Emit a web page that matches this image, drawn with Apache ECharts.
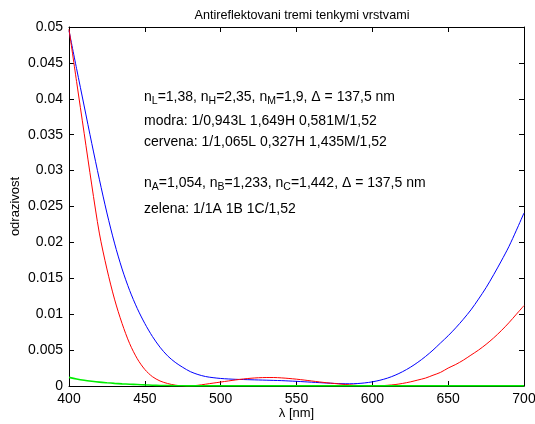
<!DOCTYPE html>
<html>
<head>
<meta charset="utf-8">
<script src="https://cdn.jsdelivr.net/npm/echarts@6/dist/echarts.min.js"></script>
<style>
  html, body { margin: 0; padding: 0; background: #fff; }
  #chart { width: 535px; height: 424px; }
</style>
</head>
<body>
<div id="chart"></div>
<script>
// Wavelength samples [nm]
var wavelengths = [400,405,410,415,420,425,430,435,440,445,450,455,460,465,470,475,480,485,490,495,
  500,505,510,515,520,525,530,535,540,545,550,555,560,565,570,575,580,585,590,595,
  600,605,610,615,620,625,630,635,640,645,650,655,660,665,670,675,680,685,690,695,700];

// Reflectance: "modra" stack (blue)
var reflBlue = [0.0495,0.0442,0.0390,0.0338,0.0288,0.0241,0.0199,0.0163,0.0133,0.0108,
  0.0087,0.0069,0.0054,0.0042,0.0033,0.0026,0.0020,0.0016,0.00132,0.00116,
  0.00105,0.00098,0.00093,0.00090,0.00087,0.00084,0.00081,0.00078,0.00075,0.00070,
  0.00065,0.00059,0.00053,0.00047,0.00041,0.00036,0.00032,0.00031,0.00034,0.00043,
  0.00058,0.00080,0.0011,0.0015,0.0020,0.0026,0.0033,0.0041,0.0050,0.0060,
  0.0070,0.0081,0.0093,0.0106,0.0121,0.0137,0.0155,0.0174,0.0194,0.0217,0.0241];

// Reflectance: "cervena" stack (red)
var reflRed = [0.0497,0.0424,0.0352,0.0280,0.0213,0.0163,0.0121,0.0087,0.0059,0.0038,
  0.0023,0.0013,0.0007,0.00035,0.00012,0.00002,0.00002,0.0001,0.00025,0.0004,
  0.00055,0.0007,0.00085,0.00098,0.00108,0.00115,0.00118,0.00118,0.00113,0.00105,
  0.00095,0.00083,0.0007,0.00057,0.00045,0.00035,0.00025,0.00016,0.00008,0.00003,
  0.00001,0.00003,0.0001,0.0002,0.00036,0.00057,0.00083,0.0011,0.0015,0.0019,
  0.0025,0.0030,0.0036,0.0043,0.0050,0.0058,0.0067,0.0077,0.0088,0.0100,0.0112];

// Reflectance: "zelena" stack (green)
var reflGreen = [0.0012,0.00098,0.0008,0.00066,0.00054,0.00045,0.00037,0.0003,0.00025,0.0002,
  0.00015,0.00011,0.00008,0.00006,0.00004,0.00003,0.00002,0.00002,0.00002,0.00002,
  0.00002,0.00002,0.00002,0.00002,0.00002,0.00002,0.00002,0.00002,0.00002,0.00002,
  0.00002,0.00002,0.00002,0.00002,0.00002,0.00002,0.00002,0.00002,0.00002,0.00002,
  0.00002,0.00002,0.00002,0.00002,0.00002,0.00002,0.00002,0.00002,0.00002,0.00002,
  0.00002,0.00002,0.00002,0.00002,0.00002,0.00002,0.00002,0.00002,0.00002,0.00002,0.00002];

var xTicks = { min: 400, max: 700, step: 50 };
var yTicks = { min: 0, max: 0.05, step: 0.005 };

function pairs(ys) {
  return wavelengths.map(function (x, i) { return [x, ys[i]]; });
}

var FONT = 'Liberation Sans, Arial, Helvetica, sans-serif';
var chart = echarts.init(document.getElementById('chart'), null, { renderer: 'canvas' });

function lineSeries(name, ys, color, width) {
  return {
    name: name, type: 'line', data: pairs(ys), showSymbol: false,
    smooth: 0.3,
    lineStyle: { color: color, width: width }, xAxisIndex: 0, yAxisIndex: 0,
    animation: false, z: 3
  };
}

var tickStyle = { inside: true, length: 5, lineStyle: { color: '#000', width: 1 } };
var axisLine = { show: true, onZero: false, lineStyle: { color: '#000', width: 1 } };

var richText = {
  n: { fontSize: 14, fontFamily: FONT, fill: '#000' },
  s: { fontSize: 10.5, fontFamily: FONT, fill: '#000', padding: [9, 0, 0, 0] }
};

chart.setOption({
  backgroundColor: '#fff',
  animation: false,
  title: {
    text: 'Antireflektovani tremi tenkymi vrstvami',
    left: 297, top: 4, textAlign: 'center',
    textStyle: { fontSize: 12.6, fontWeight: 'normal', fontFamily: FONT, color: '#000' }
  },
  grid: { left: 69, right: 11, top: 27, bottom: 38, outerBoundsMode: 'none', containLabel: false },
  xAxis: [{
    type: 'value', min: xTicks.min, max: xTicks.max, interval: xTicks.step,
    name: 'λ [nm]', nameLocation: 'middle', nameGap: 21, nameMoveOverlap: false,
    nameTextStyle: { fontSize: 13, fontFamily: FONT, color: '#000' },
    axisLine: axisLine, axisTick: tickStyle,
    axisLabel: { fontSize: 14, fontFamily: FONT, color: '#000', margin: 6 },
    splitLine: { show: false }
  }, {
    type: 'value', position: 'top', min: xTicks.min, max: xTicks.max, interval: xTicks.step,
    axisLine: axisLine, axisTick: tickStyle, axisLabel: { show: false }, splitLine: { show: false }
  }],
  yAxis: [{
    type: 'value', min: yTicks.min, max: yTicks.max, interval: yTicks.step,
    name: 'odrazivost', nameLocation: 'middle', nameGap: 47, nameMoveOverlap: false,
    nameTextStyle: { fontSize: 13, fontFamily: FONT, color: '#000' },
    axisLine: axisLine, axisTick: tickStyle,
    axisLabel: {
      fontSize: 14, fontFamily: FONT, color: '#000', margin: 6,
      formatter: function (v) { return String(+v.toFixed(3)); }
    },
    splitLine: { show: false }
  }, {
    type: 'value', position: 'right', min: yTicks.min, max: yTicks.max, interval: yTicks.step,
    axisLine: axisLine, axisTick: tickStyle, axisLabel: { show: false }, splitLine: { show: false }
  }],
  series: [
    lineSeries('modra', reflBlue, '#0000ff', 1),
    lineSeries('cervena', reflRed, '#ff0000', 1),
    lineSeries('zelena', reflGreen, '#00ee00', 1.6)
  ],
  graphic: [
    { type: 'text', left: 144, top: 90, z: 10, style: {
      text: '{n|n}{s|L}{n|=1,38, n}{s|H}{n|=2,35, n}{s|M}{n|=1,9, Δ = 137,5 nm}', rich: richText } },
    { type: 'text', left: 144, top: 114, z: 10, style: {
      text: 'modra: 1/0,943L 1,649H 0,581M/1,52', fontSize: 14, fontFamily: FONT, fill: '#000' } },
    { type: 'text', left: 144, top: 135, z: 10, style: {
      text: 'cervena: 1/1,065L 0,327H 1,435M/1,52', fontSize: 14, fontFamily: FONT, fill: '#000' } },
    { type: 'text', left: 144, top: 176, z: 10, style: {
      text: '{n|n}{s|A}{n|=1,054, n}{s|B}{n|=1,233, n}{s|C}{n|=1,442, Δ = 137,5 nm}', rich: richText } },
    { type: 'text', left: 144, top: 202, z: 10, style: {
      text: 'zelena: 1/1A 1B 1C/1,52', fontSize: 14, fontFamily: FONT, fill: '#000' } }
  ]
});
</script>
</body>
</html>
